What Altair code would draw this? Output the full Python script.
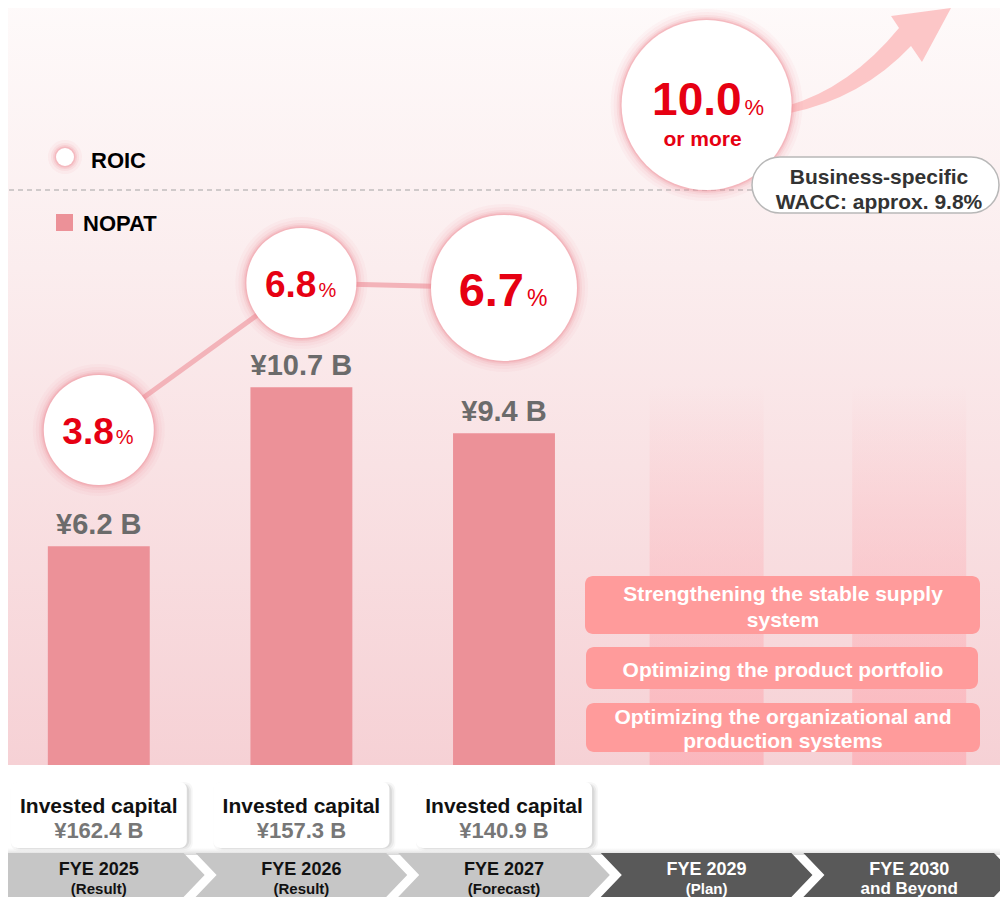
import altair as alt
import pandas as pd

# ---------------- data ----------------
periods = ["FYE 2025", "FYE 2026", "FYE 2027", "FYE 2029", "FYE 2030"]
period_notes = ["(Result)", "(Result)", "(Forecast)", "(Plan)", "and Beyond"]

nopat_periods = ["FYE 2025", "FYE 2026", "FYE 2027"]
nopat_values = [6.2, 10.7, 9.4]                 # NOPAT, ¥ billion
invested_capital = [162.4, 157.3, 140.9]         # invested capital, ¥ billion

roic_periods = ["FYE 2025", "FYE 2026", "FYE 2027", "FYE 2029"]
roic_values = [3.8, 6.8, 6.7, 10.0]              # ROIC, %
roic_status = ["Result", "Result", "Forecast", "Target"]
target_note = "or more"

future_periods = ["FYE 2029", "FYE 2030"]
legend_labels = ["ROIC", "NOPAT"]
wacc_text = "Business-specific\nWACC: approx. 9.8%"
invested_title = "Invested capital"
initiatives = [
    "Strengthening the stable supply\nsystem",
    "Optimizing the product portfolio",
    "Optimizing the organizational and\nproduction systems",
]

# ---------------- tables ----------------
df_periods = pd.DataFrame({"period": periods, "note": period_notes, "idx": list(range(len(periods)))})
df_nopat = pd.DataFrame({"period": nopat_periods, "nopat": nopat_values, "ic": invested_capital})
df_nopat["label"] = [f"¥{v:.1f} B" for v in nopat_values]
df_nopat["ic_label"] = [f"¥{v:.1f} B" for v in invested_capital]
df_roic = pd.DataFrame({"period": roic_periods, "roic": roic_values, "status": roic_status})
df_roic["num"] = [f"{v:.1f}" for v in roic_values]
df_future = pd.DataFrame({"period": future_periods})

# ---------------- styling ----------------
FONT = "Liberation Sans, Arial, Helvetica, sans-serif"
RED = "#E60012"
BAR = "#EC9198"
GLOW = "#EE8A94"
W, H = 992, 889
OFF = 8


def px(v):
    return v - OFF


one = pd.DataFrame({"k": [0]})


def rect(x1, y1, x2, y2, **mk):
    return alt.Chart(one).mark_rect(**mk).encode(
        x=alt.value(px(x1)), x2=alt.value(px(x2)), y=alt.value(px(y1)), y2=alt.value(px(y2))
    )


def label(x, y, text, **mk):
    mk.setdefault("font", FONT)
    mk.setdefault("fontWeight", "bold")
    mk.setdefault("baseline", "alphabetic")
    return alt.Chart(one).mark_text(lineBreak="\n", **mk).encode(
        x=alt.value(px(x)), y=alt.value(px(y)), text=alt.value(text)
    )


def dot(x, y, r, **mk):
    return alt.Chart(one).mark_circle(size=(2 * r) ** 2, opacity=mk.pop("opacity", 1), **mk).encode(
        x=alt.value(px(x)), y=alt.value(px(y))
    )


xscale = alt.Scale(domain=periods, paddingInner=0.497, paddingOuter=0.1966)
XP = alt.X("period:N", scale=xscale, axis=None)
BASE = px(765)
nopat_scale = alt.Scale(domain=[0, 12], range=[BASE, BASE - 12 * 35.3], nice=False)
YN = alt.Y("nopat:Q", scale=nopat_scale, axis=None)
# piecewise-linear ROIC axis (the design stretches the upper part slightly)
roic_scale = alt.Scale(domain=[0, 6.8, 12], range=[px(616.2), px(283), px(-6.2)], nice=False)
YR = alt.Y("roic:Q", scale=roic_scale, axis=None)

layers = []

# background gradient
layers.append(rect(0, 0, 1010, 765, color=alt.Gradient(
    gradient="linear", x1=0, x2=0, y1=0, y2=1,
    stops=[alt.GradientStop(offset=0, color="#FEFAFA"),
           alt.GradientStop(offset=0.35, color="#FBEDEE"),
           alt.GradientStop(offset=1, color="#F6D1D5")])))

# ghost future columns
layers.append(alt.Chart(df_future).mark_bar(width=114, color=alt.Gradient(
    gradient="linear", x1=0, x2=0, y1=0, y2=1,
    stops=[alt.GradientStop(offset=0, color="rgba(252,180,186,0)"),
           alt.GradientStop(offset=0.5, color="rgba(252,180,186,0.45)"),
           alt.GradientStop(offset=1, color="rgba(252,176,183,0.8)")])).encode(
    x=XP, y=alt.value(px(385)), y2=alt.value(px(765))))

# dashed WACC line
layers.append(alt.Chart(one).mark_rule(color="#A3A3A3", strokeDash=[5, 4], strokeWidth=1.2).encode(
    x=alt.value(px(0)), x2=alt.value(px(752)), y=alt.value(px(190))))

# legend
for e, o in [(8, 0.08), (5, 0.12), (3, 0.18), (1.5, 0.3)]:
    layers.append(dot(65, 157, 9 + e, color=GLOW, opacity=o))
layers.append(dot(65, 157, 9, color="white"))
layers.append(label(91, 168, legend_labels[0], fontSize=22, align="left", color="black"))
layers.append(rect(56, 214, 73, 231, color=BAR))
layers.append(label(83, 231, legend_labels[1], fontSize=22, align="left", color="black"))

# NOPAT bars + labels
layers.append(alt.Chart(df_nopat).mark_bar(color=BAR).encode(x=XP, y=YN))
layers.append(alt.Chart(df_nopat).mark_text(font=FONT, fontWeight="bold", fontSize=29, color="#6B6B6B",
                                            baseline="alphabetic", dy=-12).encode(x=XP, y=YN, text="label:N"))

# arrow toward the target
ARROW = ("M -0.959 0.541 Q -0.218 0.329 0.359 -0.376 L 0.265 -0.518 L 0.971 -0.612 "
         "L 0.629 0.024 L 0.5 -0.165 Q -0.076 0.447 -0.924 0.624 Z")
layers.append(alt.Chart(one).mark_point(shape=ARROW, size=170 ** 2, filled=True, color="#FCC6C7",
                                        opacity=1, strokeWidth=0).encode(
    x=alt.value(px(868.5)), y=alt.value(px(60))))

# ROIC connecting line
layers.append(alt.Chart(df_roic).transform_filter(alt.datum.status != "Target").mark_line(
    color="#F3B3B9", strokeWidth=5).encode(x=XP, y=YR))

# ROIC circles
RADII = {"Result": 55, "Forecast": 73, "Target": 85}
for st, r in RADII.items():
    base = alt.Chart(df_roic).transform_filter(alt.datum.status == st)
    for e, o in [(11, 0.06), (8, 0.08), (5, 0.12), (3, 0.18), (1.5, 0.3)]:
        layers.append(base.mark_circle(color=GLOW, opacity=o, size=(2 * (r + e)) ** 2).encode(x=XP, y=YR))
    layers.append(base.mark_circle(color="white", opacity=1, size=(2 * r) ** 2).encode(x=XP, y=YR))

TXT = {"Result": (15, 14, 37, 17, 20), "Forecast": (20, 18, 47, 23, 23), "Target": (35, 10, 46, 38, 22)}
for st, (ndx, ndy, ns, pdx, ps) in TXT.items():
    base = alt.Chart(df_roic).transform_filter(alt.datum.status == st)
    layers.append(base.mark_text(font=FONT, fontWeight="bold", fontSize=ns, color=RED, align="right",
                                 baseline="alphabetic", dx=ndx, dy=ndy).encode(x=XP, y=YR, text="num:N"))
    layers.append(base.mark_text(font=FONT, fontSize=ps, color=RED, align="left",
                                 baseline="alphabetic", dx=pdx, dy=ndy).encode(x=XP, y=YR, text=alt.value("%")))
layers.append(alt.Chart(df_roic).transform_filter(alt.datum.status == "Target").mark_text(
    font=FONT, fontWeight="bold", fontSize=21, color=RED, baseline="alphabetic", dx=-4, dy=41).encode(
    x=XP, y=YR, text=alt.value(target_note)))

# WACC pill
layers.append(rect(752, 157, 999, 213, fill="white", stroke="#B8B8B8", strokeWidth=1.5, cornerRadius=28))
layers.append(label(879, 184, wacc_text, fontSize=21, color="#333333", lineHeight=25))

# initiatives
SAL = "#FF9B9B"
layers.append(rect(585, 576, 980, 634, color=SAL, cornerRadius=8))
layers.append(rect(586, 647, 978, 689, color=SAL, cornerRadius=8))
layers.append(rect(586, 703, 980, 752, color=SAL, cornerRadius=8))
layers.append(label(783, 601, initiatives[0], fontSize=21, color="white", lineHeight=26))
layers.append(label(783, 677, initiatives[1], fontSize=21, color="white"))
layers.append(label(783, 724, initiatives[2], fontSize=21, color="white", lineHeight=24))

# invested capital boxes
for e, o, d in [(6, 0.03, 3), (3, 0.05, 3), (1, 0.07, 2)]:
    layers.append(alt.Chart(df_nopat).mark_bar(width=176 + e, color="#000000", opacity=o, cornerRadius=8,
                                               xOffset=d, yOffset=d).encode(
        x=XP, y=alt.value(px(782 - e / 2)), y2=alt.value(px(848 + e / 2))))
layers.append(alt.Chart(df_nopat).mark_bar(width=176, color="white", cornerRadius=7).encode(
    x=XP, y=alt.value(px(782)), y2=alt.value(px(848))))
layers.append(alt.Chart(df_nopat).mark_text(font=FONT, fontWeight="bold", fontSize=21, color="#111111",
                                            baseline="alphabetic").encode(
    x=XP, y=alt.value(px(813)), text=alt.value(invested_title)))
layers.append(alt.Chart(df_nopat).mark_text(font=FONT, fontWeight="bold", fontSize=22, color="#777777",
                                            baseline="alphabetic").encode(
    x=XP, y=alt.value(px(838)), text="ic_label:N"))

# shadow above the timeline
layers.append(rect(0, 848, 1010, 855, color=alt.Gradient(
    gradient="linear", x1=0, x2=0, y1=0, y2=1,
    stops=[alt.GradientStop(offset=0, color="rgba(225,225,225,0)"),
           alt.GradientStop(offset=1, color="rgba(215,215,215,1)")])))

# timeline chevrons
P_NOTCH = "M -0.945 -0.196 L 0.757 -0.196 L 0.945 0 L 0.757 0.196 L -0.945 0.196 L -0.757 0 Z"
P_FLAT = "M -1.2 -0.196 L 0.757 -0.196 L 0.945 0 L 0.757 0.196 L -1.2 0.196 Z"
layers.append(alt.Chart(df_periods).mark_point(filled=True, size=224 ** 2, opacity=1, strokeWidth=0).encode(
    x=XP, y=alt.value(px(875)),
    shape=alt.condition("datum.idx == 0", alt.value(P_FLAT), alt.value(P_NOTCH)),
    color=alt.condition("datum.idx < 3", alt.value("#C6C6C6"), alt.value("#595959"))))
layers.append(alt.Chart(df_periods).mark_text(font=FONT, fontWeight="bold", fontSize=18,
                                              baseline="alphabetic").encode(
    x=XP, y=alt.value(px(875)), text="period:N",
    color=alt.condition("datum.idx < 3", alt.value("#111111"), alt.value("white"))))
layers.append(alt.Chart(df_periods).mark_text(font=FONT, fontWeight="bold",
                                              baseline="alphabetic").encode(
    x=XP, y=alt.value(px(894)), text="note:N",
    size=alt.condition("datum.idx == 4", alt.value(17), alt.value(15)),
    color=alt.condition("datum.idx < 3", alt.value("#111111"), alt.value("white"))))

chart = alt.layer(*layers).resolve_scale(y="independent").properties(
    width=W, height=H, padding=0, autosize=alt.AutoSizeParams(type="none"), background="white"
).configure_view(strokeWidth=0)

chart.save("out.html", embed_options={"renderer": "svg", "actions": False})
